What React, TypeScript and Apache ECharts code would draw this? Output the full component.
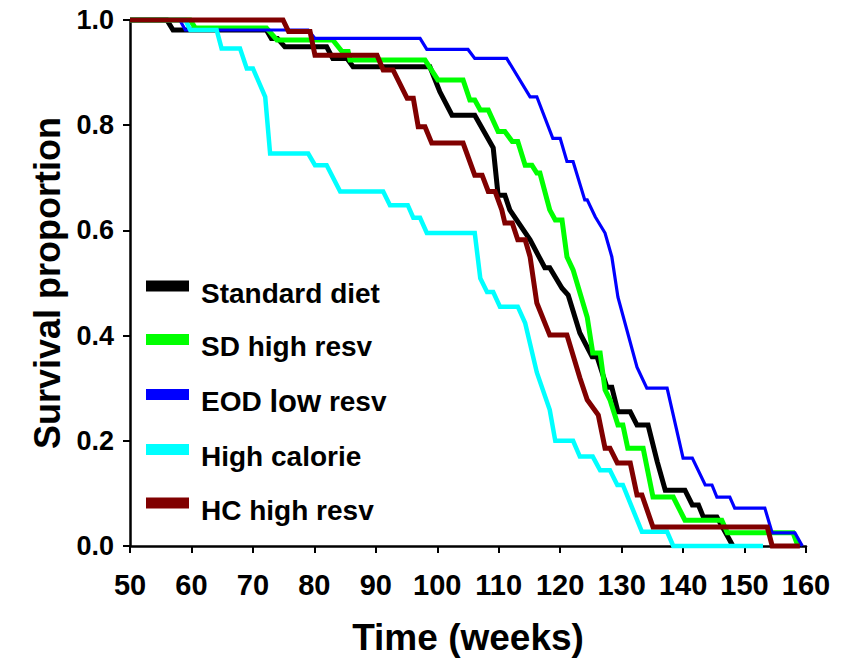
import React, { useEffect, useRef } from "react";
import * as echarts from "echarts";

const seriesNames = ["Standard diet", "SD high resv", "EOD low resv", "High calorie", "HC high resv"];
const seriesColors = ["#000000", "#00ff00", "#0000ff", "#00ffff", "#800000"];
const seriesWidths = [5, 5, 3.2, 4.5, 5];

const xTicks = [50, 60, 70, 80, 90, 100, 110, 120, 130, 140, 150, 160];
const yTicks = [0, 0.2, 0.4, 0.6, 0.8, 1.0];

const standardDiet: [number, number][] = [
  [50, 1], [56, 1], [57, 0.981], [72.2, 0.981], [73, 0.965], [74, 0.965], [75.2, 0.949], [82, 0.949],
  [83, 0.927], [85.3, 0.927], [86.3, 0.911], [98.8, 0.911], [100.4, 0.864], [102.4, 0.819], [106.1, 0.819],
  [109.1, 0.757], [109.9, 0.667], [111, 0.667], [111.8, 0.639], [115.1, 0.582], [117.5, 0.529], [118.3, 0.529],
  [120.3, 0.49], [121.3, 0.477], [123.2, 0.405], [125.2, 0.36], [126, 0.36], [127.6, 0.302], [128.4, 0.302],
  [129.4, 0.255], [131.4, 0.255], [132.5, 0.23], [134.3, 0.23], [135.8, 0.16], [137.1, 0.106], [140.3, 0.106],
  [141.5, 0.078], [142.5, 0.078], [143.3, 0.055], [145.5, 0.055], [147.6, 0.011], [148.1, 0],
];

const sdHighResv: [number, number][] = [
  [50, 1], [59.8, 1], [60.6, 0.985], [72.2, 0.985], [73.9, 0.962], [83, 0.962], [84.5, 0.94], [85.5, 0.94],
  [85.8, 0.924], [98, 0.924], [100.1, 0.886], [104.2, 0.886], [105.3, 0.848], [106.1, 0.848], [107, 0.829],
  [108.3, 0.829], [109.9, 0.788], [111, 0.788], [112.2, 0.769], [113.1, 0.769], [114.3, 0.724], [115.4, 0.724],
  [116.2, 0.709], [116.7, 0.709], [118.3, 0.639], [119.2, 0.62], [120.3, 0.62], [121.1, 0.55], [122.1, 0.525],
  [124.4, 0.435], [125.3, 0.367], [126.5, 0.367], [127.3, 0.297], [128.1, 0.278], [129.4, 0.23], [130.2, 0.23],
  [131, 0.186], [133.5, 0.186], [135.1, 0.093], [138.4, 0.093], [140.3, 0.049], [146.3, 0.049], [147.2, 0.025],
  [157.9, 0.025], [158.7, 0],
];

const eodLowResv: [number, number][] = [
  [50, 1], [58.1, 1], [59, 0.981], [79, 0.981], [80.1, 0.965], [97.2, 0.965], [98.3, 0.944], [105, 0.944],
  [106.1, 0.927], [111.3, 0.927], [115.1, 0.854], [116.2, 0.854], [118.8, 0.775], [120, 0.775], [121.1, 0.731],
  [122.1, 0.731], [124, 0.658], [124.4, 0.658], [125.7, 0.626], [127.3, 0.595], [128.4, 0.55], [129.4, 0.473],
  [132.5, 0.34], [134.1, 0.3], [137.4, 0.3], [140, 0.167], [141.5, 0.167], [143.6, 0.116], [144.7, 0.116],
  [145.5, 0.093], [147.6, 0.093], [148.4, 0.072], [153.3, 0.072], [154.5, 0.025], [158.2, 0.025], [159.4, 0],
];

const highCalorie: [number, number][] = [
  [50, 1], [59, 1], [59.8, 0.981], [64.1, 0.981], [64.9, 0.946], [67.9, 0.946], [69, 0.908], [70, 0.908],
  [72, 0.854], [72.8, 0.746], [79, 0.746], [80.1, 0.724], [82, 0.724], [84.2, 0.674], [91.2, 0.674],
  [92.3, 0.648], [95.2, 0.648], [96.1, 0.624], [97.2, 0.624], [98.3, 0.595], [106.1, 0.595], [107, 0.509],
  [108.1, 0.483], [109.1, 0.483], [110.2, 0.455], [113.1, 0.455], [114.3, 0.424], [116.2, 0.33], [118.3, 0.259],
  [119.2, 0.2], [122.1, 0.2], [123.2, 0.17], [125.3, 0.17], [126.5, 0.144], [128.1, 0.144], [129.3, 0.116],
  [130.2, 0.116], [133.3, 0.027], [137.4, 0.027], [138.4, 0], [153, 0],
];

const hcHighResv: [number, number][] = [
  [50, 1], [74.9, 1], [75.8, 0.978], [79.3, 0.978], [80.1, 0.933], [90.2, 0.933], [91.2, 0.905], [92.8, 0.905],
  [95.1, 0.851], [96.1, 0.851], [96.9, 0.797], [98, 0.797], [99.1, 0.766], [104.2, 0.766], [106.1, 0.705],
  [107.3, 0.705], [108.3, 0.674], [109.4, 0.674], [110.5, 0.639], [111, 0.614], [112.2, 0.614], [113.1, 0.582],
  [114.3, 0.582], [115.1, 0.55], [116.2, 0.462], [118.3, 0.401], [121.1, 0.401], [123.2, 0.32], [124.4, 0.278],
  [126.2, 0.249], [127.3, 0.186], [128.1, 0.186], [129.3, 0.158], [131.4, 0.158], [132.5, 0.097], [133.3, 0.097],
  [135.1, 0.036], [153.7, 0.036], [154.5, 0], [159, 0],
];

const seriesData = [standardDiet, sdHighResv, eodLowResv, highCalorie, hcHighResv];

const FONT = "Liberation Sans, Arial, Helvetica, sans-serif";
// legend swatch: 43x11 bar at the top-left of a 50x25 box (the lone move-to point widens the box)
const LEGEND_ICON = "path://M0,0L43,0L43,11L0,11Z M50,25";

export default function App() {
  const ref = useRef<HTMLDivElement>(null);
  useEffect(() => {
    if (!ref.current) return;
    const chart = echarts.init(ref.current, null, { renderer: "svg" });
    chart.setOption({
      animation: false,
      backgroundColor: "#ffffff",
      grid: { left: 130, right: 46, top: 20, bottom: 122, containLabel: false },
      legend: {
        orient: "vertical",
        left: 146,
        top: 279,
        padding: 0,
        itemWidth: 50,
        itemHeight: 25,
        itemGap: 25.5,
        icon: LEGEND_ICON,
        data: seriesNames,
        formatter: (name: string) => (name === "EOD low resv" ? "EOD {l|low} resv" : name),
        textStyle: {
          fontFamily: FONT,
          fontWeight: "bold",
          fontSize: 28,
          color: "#000",
          rich: {
            l: { fontFamily: FONT, fontSize: 31, fontWeight: "bold", color: "#000" },
          },
        },
      },
      xAxis: {
        type: "value",
        min: 50,
        max: 160,
        interval: 10,
        name: "Time (weeks)",
        nameLocation: "middle",
        nameGap: 73,
        nameTextStyle: { fontFamily: FONT, fontWeight: "bold", fontSize: 37, color: "#000" },
        axisLine: { show: true, lineStyle: { color: "#000", width: 2.5 } },
        axisTick: { show: true, length: 7, lineStyle: { color: "#000", width: 2 } },
        axisLabel: {
          margin: 24,
          fontFamily: FONT,
          fontWeight: "bold",
          fontSize: 29,
          color: "#000",
          customValues: xTicks,
        },
        splitLine: { show: false },
      },
      yAxis: {
        type: "value",
        min: 0,
        max: 1,
        interval: 0.2,
        name: "Survival proportion",
        nameLocation: "middle",
        nameGap: 62,
        nameTextStyle: { fontFamily: FONT, fontWeight: "bold", fontSize: 36, color: "#000" },
        axisLine: { show: true, lineStyle: { color: "#000", width: 2.5 } },
        axisTick: { show: true, length: 7, lineStyle: { color: "#000", width: 2 } },
        axisLabel: {
          margin: 16,
          fontFamily: FONT,
          fontWeight: "bold",
          fontSize: 27,
          color: "#000",
          formatter: (v: number) => (yTicks.some((t) => Math.abs(t - v) < 1e-6) ? v.toFixed(1) : ""),
        },
        splitLine: { show: false },
      },
      series: seriesNames.map((name, i) => ({
        name,
        type: "line",
        data: seriesData[i],
        showSymbol: false,
        symbol: "none",
        color: seriesColors[i],
        lineStyle: { color: seriesColors[i], width: seriesWidths[i], join: "miter" },
        itemStyle: { color: seriesColors[i] },
        z: 2 + i,
        clip: false,
      })),
    });
    return () => chart.dispose();
  }, []);
  return (
    <div
      ref={ref}
      style={{ position: "fixed", left: 0, top: 0, width: 852, height: 668, background: "#fff" }}
    />
  );
}
